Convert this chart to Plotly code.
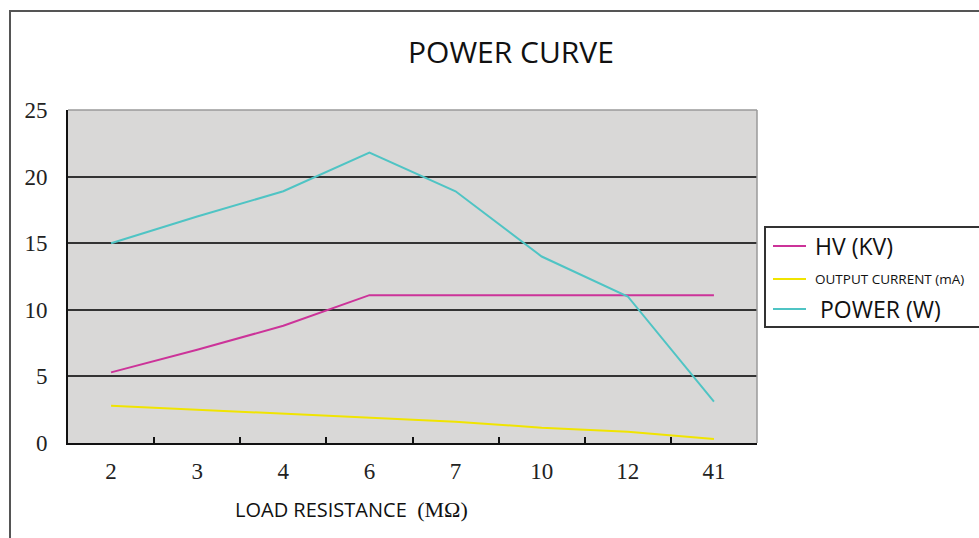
import plotly.graph_objects as go

# ---- data ----
categories = ["2", "3", "4", "6", "7", "10", "12", "41"]
hv_kv = [5.3, 7.0, 8.8, 11.1, 11.1, 11.1, 11.1, 11.1]
current_ma = [2.8, 2.5, 2.2, 1.9, 1.6, 1.15, 0.85, 0.3]
power_w = [15.0, 17.0, 18.9, 21.8, 18.9, 14.0, 11.0, 3.1]
y_ticks = [0, 5, 10, 15, 20, 25]
grid_vals = [5, 10, 15, 20]

series_names = ["HV (KV)", "OUTPUT CURRENT (mA)", "POWER (W)"]
series_values = [hv_kv, current_ma, power_w]
series_colors = ["#cc3399", "#f0e400", "#4fc4c4"]
legend_sizes = [23, 13.5, 23]

W, H = 979, 538
L, R, T, B = 68, 757, 110, 443
pw, ph = R - L, B - T

def px(x):
    return (x - L) / pw

def py(y):
    return (B - y) / ph

fig = go.Figure()
for name, vals, col in zip(series_names, series_values, series_colors):
    fig.add_trace(go.Scatter(x=categories, y=vals, mode="lines", name=name,
                             line=dict(color=col, width=2), showlegend=False))

shapes = []
annotations = []
# outer frame
shapes.append(dict(type="rect", xref="paper", yref="paper",
                   x0=px(10), x1=px(995), y0=py(11), y1=py(560),
                   line=dict(color="#555555", width=2), layer="below"))
# top/right plot border
shapes.append(dict(type="line", xref="paper", yref="paper",
                   x0=0, x1=1, y0=1, y1=1, line=dict(color="#9a9a9a", width=1.5)))
shapes.append(dict(type="line", xref="paper", yref="paper",
                   x0=1, x1=1, y0=0, y1=1, line=dict(color="#9a9a9a", width=1.5)))
# legend box
shapes.append(dict(type="rect", xref="paper", yref="paper",
                   x0=px(765), x1=px(995), y0=py(227), y1=py(327),
                   line=dict(color="#333333", width=2), fillcolor="white"))
leg_y = [246, 279, 309]
leg_tx = [813, 813, 818]
for name, col, ly, tx, fs in zip(series_names, series_colors, leg_y, leg_tx, legend_sizes):
    shapes.append(dict(type="line", xref="paper", yref="paper",
                       x0=px(773), x1=px(806), y0=py(ly), y1=py(ly),
                       line=dict(color=col, width=2)))
    annotations.append(dict(text=name, xref="paper", yref="paper",
                            x=px(tx), y=py(ly), xanchor="left", yanchor="middle",
                            showarrow=False,
                            font=dict(family="Open Sans", size=fs, color="#111111")))
# title
annotations.append(dict(text="POWER CURVE", xref="paper", yref="paper",
                        x=px(511), y=py(52), xanchor="center", yanchor="middle",
                        showarrow=False,
                        font=dict(family="Open Sans", size=30, color="#111111")))
# x axis title
annotations.append(dict(text="LOAD RESISTANCE  <span style='font-family:Liberation Serif;font-size:22px'>(MΩ)</span>",
                        xref="paper", yref="paper",
                        x=px(233), y=py(509), xanchor="left", yanchor="middle",
                        showarrow=False,
                        font=dict(family="Open Sans", size=20, color="#111111")))

fig.update_layout(
    width=W, height=H,
    margin=dict(l=L, r=W - R, t=T, b=H - B, pad=0),
    paper_bgcolor="white", plot_bgcolor="#d9d8d7",
    shapes=shapes, annotations=annotations,
    xaxis=dict(type="category", range=[-0.5, len(categories) - 0.5],
               showgrid=False, showline=True, linecolor="#111111", linewidth=2,
               ticks="inside", tickson="boundaries", ticklen=6, tickwidth=2,
               tickcolor="#111111",
               tickfont=dict(family="Liberation Serif", size=23, color="#222222"),
               ticklabelstandoff=6, zeroline=False, fixedrange=True),
    yaxis=dict(range=[0, 25], tickvals=y_ticks, ticktext=[str(v) for v in y_ticks],
               showgrid=False, showline=True, linecolor="#111111", linewidth=2,
               ticks="", ticklabelstandoff=14, zeroline=False, fixedrange=True,
               tickfont=dict(family="Liberation Serif", size=23, color="#222222"),
               minor=dict(tickvals=grid_vals, showgrid=True, gridcolor="#333333",
                          gridwidth=2, ticks="")),
)

fig.write_html("out.html",
               config={"displayModeBar": False},
               post_script="document.body.style.margin='0';document.body.style.overflow='hidden';")
